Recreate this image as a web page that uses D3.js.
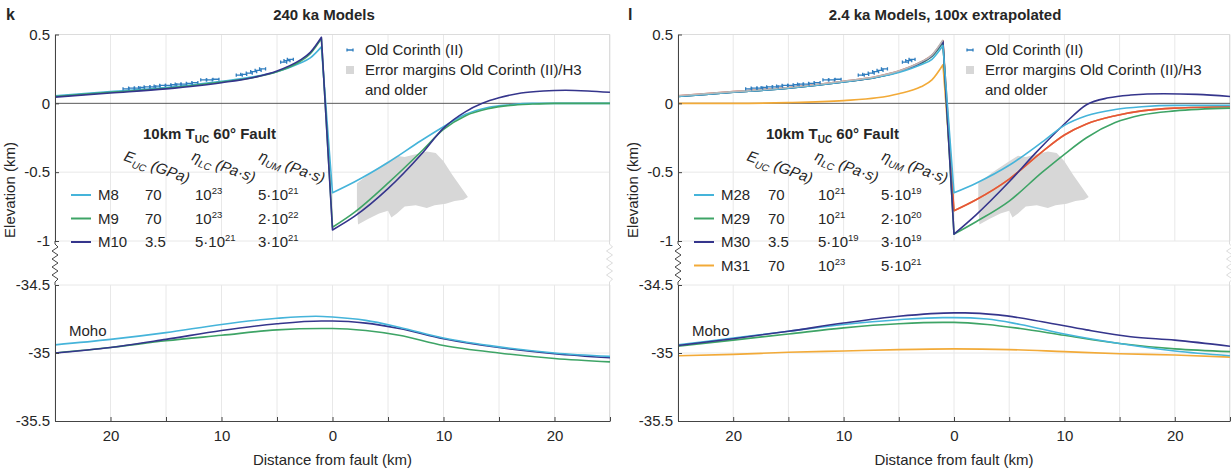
<!DOCTYPE html>
<html><head><meta charset="utf-8">
<script src="https://cdn.jsdelivr.net/npm/d3@7"></script>
<style>
body{margin:0;background:#fff}
text{font-family:"Liberation Sans",Arial,Helvetica,sans-serif;fill:#262626}
</style>
</head><body>
<svg id="chart" width="1231" height="468"></svg>
<script>
// ---------- axis ticks ----------
const xTicks = [-25,-20,-15,-10,-5,0,5,10,15,20,25];
const xTickLabels = ["","20","","10","","0","","10","","20",""];
const topYTicks = [0.5,0,-0.5,-1];
const topYLabels = ["0.5","0","-0.5","-1"];
const botYTicks = [-34.5,-35,-35.5];
const botYLabels = ["-34.5","-35","-35.5"];

// ---------- Old Corinth (II) data ----------
const ocX = [-18.6,-18.1,-17.6,-17.2,-16.7,-16.2,-15.8,-15.3,-14.8,-14.3,-13.9,-13.4,-12.9,-12.4,-11.6,-11.1,-10.5,-8.4,-8.0,-7.5,-7.1,-6.7,-6.3,-4.4,-4.1,-3.8];
const ocY = [0.105,0.11,0.11,0.115,0.12,0.12,0.125,0.13,0.13,0.135,0.14,0.14,0.145,0.15,0.17,0.17,0.175,0.205,0.21,0.22,0.23,0.24,0.25,0.30,0.31,0.32];

// ---------- Error margins polygon (km, elevation) ----------
const errX = [2.2,3.5,5.0,5.8,6.5,7.5,8.5,9.3,10.0,10.8,11.5,12.2,11.8,11.0,10.2,9.2,8.5,7.5,6.5,5.8,5.3,5.0,4.2,3.2,2.3,2.2];
const errY = [-0.58,-0.50,-0.42,-0.38,-0.39,-0.37,-0.35,-0.36,-0.42,-0.52,-0.60,-0.68,-0.70,-0.71,-0.73,-0.74,-0.76,-0.74,-0.75,-0.80,-0.83,-0.78,-0.80,-0.84,-0.88,-0.75];

// ---------- 240 ka models (panel k) ----------
const m8Top  = [[-25,0.055],[-20,0.085],[-15,0.115],[-10,0.16],[-7,0.195],[-5,0.23],[-3,0.29],[-2,0.33],[-1,0.41],[0,-0.65],[2,-0.57],[5,-0.43],[8,-0.27],[10,-0.17],[12,-0.08],[14,-0.03],[16,-0.01],[18,0],[25,0]];
const m9Top  = [[-25,0.05],[-20,0.08],[-15,0.11],[-10,0.155],[-7,0.19],[-5,0.23],[-3,0.30],[-2,0.36],[-1,0.47],[0,-0.90],[2,-0.79],[5,-0.58],[8,-0.35],[10,-0.19],[12,-0.09],[14,-0.04],[16,-0.015],[18,-0.005],[20,0],[25,0]];
const m10Top = [[-25,0.045],[-20,0.075],[-15,0.105],[-10,0.15],[-7,0.19],[-5,0.235],[-3,0.31],[-2,0.37],[-1,0.48],[0,-0.92],[2,-0.82],[5,-0.62],[8,-0.37],[10,-0.18],[12,-0.06],[13.5,0],[15,0.04],[17,0.075],[19,0.09],[21,0.095],[23,0.09],[25,0.08]];
const m8Moho  = [[-25,-34.94],[-20,-34.90],[-15,-34.85],[-10,-34.79],[-5,-34.745],[-1.5,-34.73],[0,-34.735],[3,-34.76],[6,-34.81],[10,-34.89],[15,-34.955],[20,-35.0],[25,-35.025]];
const m9Moho  = [[-25,-35.0],[-20,-34.96],[-15,-34.91],[-10,-34.87],[-5,-34.83],[-1,-34.82],[0,-34.82],[3,-34.835],[6,-34.87],[10,-34.945],[15,-35.0],[20,-35.04],[25,-35.065]];
const m10Moho = [[-25,-35.0],[-20,-34.96],[-15,-34.90],[-10,-34.835],[-5,-34.785],[-1,-34.765],[0,-34.765],[3,-34.78],[6,-34.82],[10,-34.895],[15,-34.96],[20,-35.005],[25,-35.035]];

// ---------- 2.4 ka models (panel l) ----------
const m28Top = [[-25,0.05],[-20,0.08],[-15,0.11],[-10,0.155],[-7,0.19],[-5,0.225],[-3,0.28],[-2,0.32],[-1,0.42],[0,-0.65],[2,-0.58],[5,-0.45],[8,-0.28],[10,-0.16],[12,-0.09],[14.6,-0.045],[17,-0.025],[20,-0.015],[25,-0.015]];
const m29Top = [[-25,0.05],[-20,0.08],[-15,0.11],[-10,0.155],[-7,0.19],[-5,0.23],[-3,0.29],[-2,0.34],[-1,0.44],[0,-0.95],[2,-0.86],[5,-0.71],[8,-0.50],[10,-0.37],[12,-0.25],[14.6,-0.14],[17,-0.085],[20,-0.055],[25,-0.035]];
const m30Top = [[-25,0.05],[-20,0.08],[-15,0.11],[-10,0.155],[-7,0.19],[-5,0.23],[-3,0.295],[-2,0.345],[-1,0.45],[0,-0.95],[2,-0.81],[5,-0.57],[7.4,-0.36],[10,-0.15],[12,-0.01],[14,0.04],[16,0.06],[19,0.07],[22,0.065],[25,0.05]];
const m31Top = [[-25,0.0],[-20,0.0],[-15,0.005],[-10,0.02],[-7,0.04],[-5,0.07],[-3,0.12],[-2,0.17],[-1,0.28],[0,-0.78],[2,-0.70],[5,-0.55],[8,-0.35],[10,-0.23],[12,-0.15],[14.6,-0.09],[17,-0.055],[20,-0.035],[25,-0.025]];
const redTop = [[-25,0.055],[-20,0.085],[-15,0.115],[-10,0.16],[-7,0.195],[-5,0.235],[-3,0.30],[-2,0.35],[-1,0.455],[0,-0.78],[2,-0.70],[5,-0.55],[8,-0.35],[10,-0.23],[12,-0.15],[14.6,-0.09],[17,-0.055],[20,-0.035],[25,-0.025]];
const grayTop = [[-25,0.055],[-20,0.085],[-15,0.115],[-10,0.16],[-7,0.195],[-5,0.235],[-3,0.30],[-2,0.35],[-1,0.46]];
const m28Moho = [[-25,-34.94],[-20,-34.89],[-15,-34.84],[-10,-34.79],[-5,-34.755],[-1,-34.74],[0,-34.74],[3,-34.75],[6,-34.79],[10,-34.86],[15,-34.93],[20,-34.985],[25,-35.02]];
const m29Moho = [[-25,-34.95],[-20,-34.905],[-15,-34.86],[-10,-34.815],[-5,-34.785],[-1,-34.775],[0,-34.775],[3,-34.79],[6,-34.82],[10,-34.87],[15,-34.93],[20,-34.97],[25,-34.99]];
const m30Moho = [[-25,-34.945],[-20,-34.895],[-15,-34.84],[-10,-34.78],[-5,-34.73],[0,-34.705],[1,-34.705],[4,-34.72],[8,-34.77],[12,-34.83],[16,-34.88],[20,-34.905],[25,-34.95]];
const m31Moho = [[-25,-35.02],[-20,-35.01],[-15,-34.995],[-10,-34.985],[-5,-34.975],[0,-34.97],[5,-34.975],[10,-34.99],[15,-35.005],[20,-35.015],[25,-35.03]];

// ---------- model parameter tables ----------
const kNames = ["M8","M9","M10"];
const kE = ["70","70","3.5"];
const kEtaLC = [["10","23"],["10","23"],["5·10","21"]];
const kEtaUM = [["5·10","21"],["2·10","22"],["3·10","21"]];
const lNames = ["M28","M29","M30","M31"];
const lE = ["70","70","3.5","70"];
const lEtaLC = [["10","21"],["10","21"],["5·10","19"],["10","23"]];
const lEtaUM = [["5·10","19"],["2·10","20"],["3·10","19"],["5·10","21"]];

const C = {cyan:"#45b4da", green:"#3ea466", navy:"#35358c", orange:"#f2aa38", red:"#e4533c", gray:"#b8b8b8", mark:"#2f7dbf", fill:"#d7d7d7"};

const svg = d3.select("#chart");

function zig(x, yA, yB) {
  const pts = [[x, yA], [x, yA+3]];
  let s = 1;
  for (let y = yA+6; y < yB-4; y += 4) { pts.push([x + 3*s, y]); s = -s; }
  pts.push([x, yB-3]); pts.push([x, yB]);
  return d3.line()(pts);
}

function panel(o) {
  const g = svg.append("g");
  const x = d3.scaleLinear([-25,25],[o.x0,o.x1]);
  const yT = d3.scaleLinear([-1,0.5],[241,34.5]);
  const yB = d3.scaleLinear([-35.5,-34.5],[421,285]);
  const id = o.id;
  const defs = svg.append("defs");
  defs.append("clipPath").attr("id", id+"t").append("rect").attr("x",o.x0).attr("y",34.5).attr("width",o.x1-o.x0).attr("height",241-34.5);
  defs.append("clipPath").attr("id", id+"b").append("rect").attr("x",o.x0).attr("y",285).attr("width",o.x1-o.x0).attr("height",421-285);

  // grids
  const grid = g.append("g").attr("stroke","#e8e8e8").attr("stroke-width",1);
  xTicks.forEach(v => {
    grid.append("line").attr("x1",x(v)).attr("x2",x(v)).attr("y1",34.5).attr("y2",241);
    grid.append("line").attr("x1",x(v)).attr("x2",x(v)).attr("y1",285).attr("y2",421);
  });
  [-0.5,-1].forEach(v => grid.append("line").attr("x1",o.x0).attr("x2",o.x1).attr("y1",yT(v)).attr("y2",yT(v)));
  [-34.5,-35].forEach(v => grid.append("line").attr("x1",o.x0).attr("x2",o.x1).attr("y1",yB(v)).attr("y2",yB(v)));
  // light box
  g.append("line").attr("x1",o.x0).attr("x2",o.x1).attr("y1",34.5).attr("y2",34.5).attr("stroke","#dcdcdc");
  g.append("line").attr("x1",o.x1-0.5).attr("x2",o.x1-0.5).attr("y1",34.5).attr("y2",241).attr("stroke","#dcdcdc");
  g.append("line").attr("x1",o.x1-0.5).attr("x2",o.x1-0.5).attr("y1",285).attr("y2",421).attr("stroke","#dcdcdc");
  g.append("path").attr("d", zig(o.x1-0.5, 241, 285)).attr("fill","none").attr("stroke","#dcdcdc");

  // error polygon
  const poly = errX.map((v,i)=>[x(v), yT(errY[i])]);
  g.append("path").attr("d", d3.line()(poly)+"Z").attr("fill",C.fill).attr("stroke","none").attr("clip-path",`url(#${id}t)`);

  // zero line
  g.append("line").attr("x1",o.x0).attr("x2",o.x1).attr("y1",yT(0)).attr("y2",yT(0)).attr("stroke","#5a5a5a").attr("stroke-width",1);

  const lineT = d3.line().x(d=>x(d[0])).y(d=>yT(d[1])).curve(d3.curveMonotoneX);
  const lineB = d3.line().x(d=>x(d[0])).y(d=>yB(d[1])).curve(d3.curveMonotoneX);
  // split at the fault so footwall peak and hanging-wall trough stay sharp
  function faultPath(d) {
    const k = d.findIndex(p => p[0] >= 0);
    if (k <= 0) return lineT(d);
    return lineT(d.slice(0,k)) + lineT(d.slice(k)).replace(/^M/,"L");
  }
  const gt = g.append("g").attr("clip-path",`url(#${id}t)`).attr("fill","none").attr("stroke-width",1.6).attr("stroke-linejoin","round");
  o.topLines.forEach(s => gt.append("path").attr("d", faultPath(s.d)).attr("stroke", s.c));
  const gb = g.append("g").attr("clip-path",`url(#${id}b)`).attr("fill","none").attr("stroke-width",1.6);
  o.mohoLines.forEach(s => gb.append("path").attr("d", lineB(s.d)).attr("stroke", s.c));

  // Old Corinth markers
  const mk = "M-3,-1.6L-3,1.6M-3,0L3,0M3,-1.6L3,1.6";
  const gm = g.append("g").attr("stroke",C.mark).attr("stroke-width",1.3).attr("fill","none");
  ocX.forEach((v,i)=> gm.append("path").attr("d",mk).attr("transform",`translate(${x(v)},${yT(ocY[i])})`));

  // axes
  const ax = g.append("g").attr("font-size",15);
  const aT = d3.axisLeft(yT).tickValues(topYTicks).tickFormat((d,i)=>topYLabels[i]).tickSizeInner(-4).tickSizeOuter(0).tickPadding(5);
  const aB = d3.axisLeft(yB).tickValues(botYTicks).tickFormat((d,i)=>botYLabels[i]).tickSizeInner(-4).tickSizeOuter(0).tickPadding(5);
  const aX = d3.axisBottom(x).tickValues(xTicks).tickFormat((d,i)=>xTickLabels[i]).tickSizeInner(-4).tickSizeOuter(0).tickPadding(9);
  [ax.append("g").attr("transform",`translate(${o.x0},0)`).call(aT),
   ax.append("g").attr("transform",`translate(${o.x0},0)`).call(aB),
   ax.append("g").attr("transform",`translate(0,421)`).call(aX)].forEach(a => {
     a.attr("font-family",null).attr("font-size",15);
     a.selectAll("path.domain").attr("stroke","#444");
     a.selectAll(".tick line").attr("stroke","#444");
     a.selectAll("text").attr("fill","#262626");
   });
  g.append("path").attr("d", zig(o.x0, 241, 285)).attr("fill","none").attr("stroke","#444");

  // labels
  g.append("text").attr("x",o.letterX).attr("y",20).attr("font-weight","bold").attr("font-size",16).text(o.letter);
  g.append("text").attr("x",o.titleX).attr("y",20).attr("text-anchor","middle").attr("font-weight","bold").attr("font-size",15).text(o.title);
  g.append("text").attr("transform",`translate(${o.x0-40},190) rotate(-90)`).attr("text-anchor","middle").attr("font-size",15).text("Elevation (km)");
  g.append("text").attr("x",x(0)).attr("y",465).attr("text-anchor","middle").attr("font-size",15).text("Distance from fault (km)");
  g.append("text").attr("x",o.x0+14).attr("y",336).attr("font-size",15).text("Moho");

  // legend (top right)
  const lx = o.x1 - 260;
  g.append("path").attr("d",mk).attr("transform",`translate(${lx},50)`).attr("stroke",C.mark).attr("stroke-width",1.3).attr("fill","none");
  g.append("rect").attr("x",lx-4).attr("y",66).attr("width",8).attr("height",8).attr("fill",C.fill);
  g.append("text").attr("x",lx+15).attr("y",55).attr("font-size",15).text("Old Corinth (II)");
  g.append("text").attr("x",lx+15).attr("y",75).attr("font-size",15).text("Error margins Old Corinth (II)/H3");
  g.append("text").attr("x",lx+15).attr("y",95).attr("font-size",15).text("and older");

  // parameter table
  const tx = o.x0;
  const tt = g.append("text").attr("x",tx+88).attr("y",139).attr("font-size",15).attr("font-weight","bold");
  tt.append("tspan").text("10km T");
  tt.append("tspan").attr("font-size",10).attr("dy",4).text("UC");
  tt.append("tspan").attr("dy",-4).text(" 60° Fault");
  const hdr = [[68,"E","UC","(GPa)"],[136,"η","LC","(Pa·s)"],[203,"η","UM","(Pa·s)"]];
  hdr.forEach(h => {
    const t = g.append("text").attr("transform",`translate(${tx+h[0]},160) rotate(20)`).attr("font-size",15).attr("font-style","italic");
    t.append("tspan").text(h[1]);
    t.append("tspan").attr("font-size",10).attr("dy",4).text(h[2]);
    t.append("tspan").attr("dy",-4).text(" "+h[3]);
  });
  o.names.forEach((nm,i) => {
    const yy = 195 + i*23.5;
    g.append("line").attr("x1",tx+16).attr("x2",tx+36).attr("y1",yy).attr("y2",yy).attr("stroke",o.colors[i]).attr("stroke-width",2);
    g.append("text").attr("x",tx+43).attr("y",yy+5).attr("font-size",15).text(nm);
    g.append("text").attr("x",tx+90).attr("y",yy+5).attr("font-size",15).text(o.E[i]);
    [[140,o.lc[i]],[203,o.um[i]]].forEach(c => {
      const t = g.append("text").attr("x",tx+c[0]).attr("y",yy+5).attr("font-size",15);
      t.append("tspan").text(c[1][0]);
      t.append("tspan").attr("font-size",9.5).attr("dy",-6).text(c[1][1]);
    });
  });
}

panel({id:"k", x0:55, x1:610, letter:"k", letterX:6, title:"240 ka Models", titleX:324,
  topLines:[{d:m8Top,c:C.cyan},{d:m9Top,c:C.green},{d:m10Top,c:C.navy}],
  mohoLines:[{d:m9Moho,c:C.green},{d:m10Moho,c:C.navy},{d:m8Moho,c:C.cyan}],
  names:kNames, E:kE, lc:kEtaLC, um:kEtaUM, colors:[C.cyan,C.green,C.navy]});

panel({id:"l", x0:678, x1:1230, letter:"l", letterX:628, title:"2.4 ka Models, 100x extrapolated", titleX:945,
  topLines:[{d:m31Top,c:C.orange},{d:redTop,c:C.red},{d:m29Top,c:C.green},{d:m30Top,c:C.navy},{d:m28Top,c:C.cyan},{d:grayTop,c:C.gray}],
  mohoLines:[{d:m31Moho,c:C.orange},{d:m29Moho,c:C.green},{d:m28Moho,c:C.cyan},{d:m30Moho,c:C.navy}],
  names:lNames, E:lE, lc:lEtaLC, um:lEtaUM, colors:[C.cyan,C.green,C.navy,C.orange]});
</script>
</body></html>
